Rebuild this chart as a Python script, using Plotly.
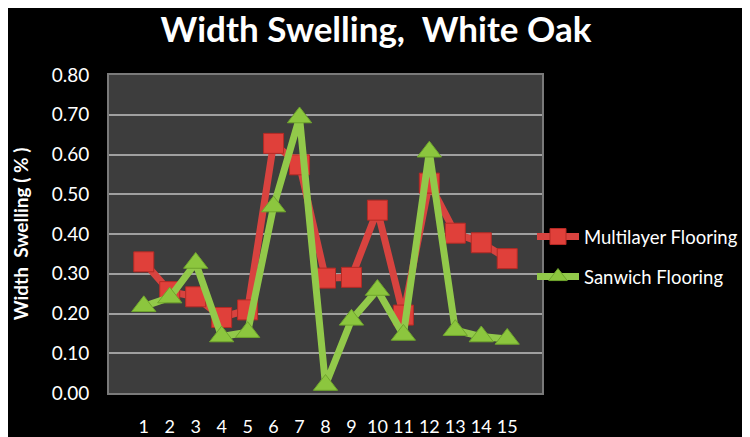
import plotly.graph_objects as go

categories = [str(i) for i in range(1, 16)]
multilayer = [0.33, 0.255, 0.242, 0.19, 0.209, 0.628, 0.574, 0.289, 0.291, 0.46, 0.196, 0.528, 0.402, 0.378, 0.338]
sandwich = [0.218, 0.24, 0.327, 0.142, 0.153, 0.469, 0.693, 0.02, 0.184, 0.259, 0.146, 0.607, 0.158, 0.142, 0.136]
y_ticks = [0.0, 0.1, 0.2, 0.3, 0.4, 0.5, 0.6, 0.7, 0.8]
y_tick_labels = ["%.2f" % v for v in y_ticks]

# the page body has an 8px margin (white strip top/left, as in the reference)
OFF = 8
W, H = 750 - OFF, 437 - OFF
PL, PR, PT, PB = 109 - OFF, 542 - OFF, 75 - OFF, 393 - OFF  # plot area in figure coords
L, R, T, B = PL, W - PR, PT, H - PB
pw, ph = PR - PL, PB - PT

fig = go.Figure()
fig.add_trace(go.Scatter(
    x=categories, y=multilayer, name="Multilayer Flooring", mode="lines+markers",
    line=dict(color="#d8433f", width=7),
    marker=dict(symbol="square", size=20, color="#e0403a", line=dict(color="#b52a25", width=1)),
    legendgroup="m",
))
fig.add_trace(go.Scatter(
    x=categories, y=sandwich, name="Sanwich Flooring", mode="lines+markers",
    line=dict(color="#92c94a", width=7),
    marker=dict(symbol="triangle-up", size=21, color="#8cc63e", line=dict(color="#6fa52c", width=1)),
    legendgroup="s",
))

fig.update_layout(
    width=W, height=H,
    margin=dict(l=L, r=R, t=T, b=B, autoexpand=False),
    paper_bgcolor="black",
    plot_bgcolor="#3d3d3d",
    title=dict(text="<b>Width Swelling,  White Oak</b>", x=(376 - OFF) / W, xanchor="center",
               y=1 - (30 - OFF) / H, yanchor="middle",
               font=dict(family="Lato", size=35, color="white")),
    font=dict(family="Lato", color="white"),
    legend=dict(x=(532 - OFF - PL) / pw, xanchor="left", y=(PB - (257 - OFF)) / ph, yanchor="middle",
                bgcolor="rgba(0,0,0,0)", font=dict(family="Lato", size=18.5, color="white"),
                itemwidth=42, traceorder="grouped", tracegroupgap=13),
    xaxis=dict(type="category", showgrid=False, zeroline=False, ticks="outside", ticklen=16,
               tickcolor="rgba(0,0,0,0)", tickfont=dict(family="Lato", size=18, color="white"),
               showline=True, linecolor="#7a7a7a", linewidth=2, mirror=True, automargin=False),
    yaxis=dict(range=[0, 0.8], tickvals=y_ticks, ticktext=y_tick_labels, showgrid=True,
               gridcolor="#a0a0a0", gridwidth=2, zeroline=False, ticks="outside", ticklen=14,
               tickcolor="rgba(0,0,0,0)", tickfont=dict(family="Lato", size=19, color="white"),
               showline=True, linecolor="#7a7a7a", linewidth=2, mirror=True, automargin=False,
               title=dict(text="<b>Width  Swelling ( % )</b>", font=dict(family="Lato", size=19, color="white"),
                          standoff=18)),
)

fig.write_html("out.html")
